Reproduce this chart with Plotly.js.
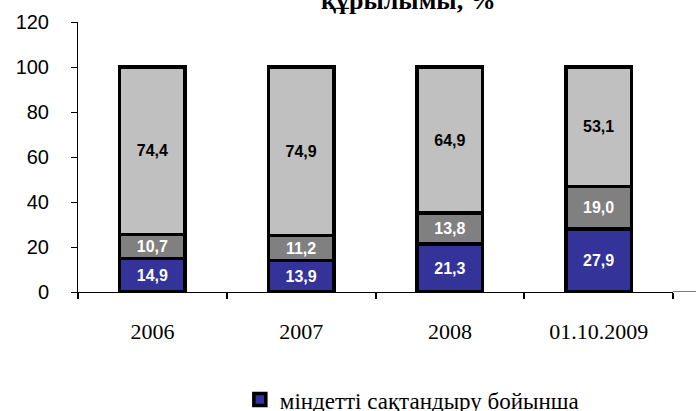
<!DOCTYPE html>
<html><head><meta charset="utf-8">
<script src="https://cdn.plot.ly/plotly-3.0.1.min.js"></script>
<style>html,body{margin:0;padding:0;background:#fff}#chart{width:696px;height:411px}</style>
</head><body><div id="chart"></div>
<script>
var categories = ["2006", "2007", "2008", "01.10.2009"];
var seriesMandatory = [14.9, 13.9, 21.3, 27.9];
var seriesMiddle = [10.7, 11.2, 13.8, 19.0];
var seriesTop = [74.4, 74.9, 64.9, 53.1];
var legendName = "міндетті сақтандыру бойынша";
var titleText = "құрылымы, %";
var yTicks = [0, 20, 40, 60, 80, 100, 120];

function fmt(arr){ return arr.map(function(v){ return v.toFixed(1).replace('.', ','); }); }

function mk(vals, color, txtColor, name, show){
  return {
    type: 'bar', x: categories, y: vals, name: name, showlegend: show,
    marker: {color: color, line: {color: '#000', width: 3.5}},
    text: fmt(vals), textposition: 'inside', insidetextanchor: 'middle',
    textangle: 0, constraintext: 'none', cliponaxis: false,
    textfont: {family: 'Liberation Sans, Arial', size: 16, color: txtColor, weight: 'bold'},
    hoverinfo: 'none'
  };
}

var data = [
  mk(seriesMandatory, '#333399', '#ffffff', legendName, true),
  mk(seriesMiddle, '#808080', '#ffffff', 'series 2', false),
  mk(seriesTop, '#c0c0c0', '#000000', 'series 3', false)
];

var layout = {
  width: 696, height: 411,
  margin: {l: 78, r: 23, t: 22, b: 119, autoexpand: false},
  paper_bgcolor: '#fff', plot_bgcolor: '#fff',
  barmode: 'stack', bargap: 0.56,
  showlegend: true,
  legend: {x: 0.272, xanchor: 'left', y: -0.319, yanchor: 'top', orientation: 'h',
    font: {family: 'Liberation Serif, Times New Roman', size: 23, color: '#000'},
    itemwidth: 30, bgcolor: 'rgba(0,0,0,0)'},
  xaxis: {type: 'category', range: [-0.5, 3.5], tickson: 'boundaries', ticks: 'outside',
    ticklen: 6, tickwidth: 2, tickcolor: '#000', showline: true, linecolor: '#000', linewidth: 1,
    showgrid: false, zeroline: false, ticklabelstandoff: 20,
    tickfont: {family: 'Liberation Serif, Times New Roman', size: 22, color: '#000'}},
  yaxis: {range: [0, 120], tickvals: yTicks, ticks: 'outside', ticklen: 6, tickwidth: 1,
    tickcolor: '#000', showline: true, linecolor: '#000', linewidth: 1, showgrid: false,
    zeroline: false, ticklabelstandoff: 18,
    tickfont: {family: 'Liberation Sans, Arial', size: 20, color: '#000'}},
  shapes: [{type: 'line', xref: 'paper', yref: 'y', x0: 1, x1: 1.04, y0: 0, y1: 0,
    line: {color: '#000', width: 1}}],
  annotations: [{text: '<b>' + titleText + '</b>', xref: 'paper', yref: 'paper',
    x: 0.556, xanchor: 'center', y: 1.0778, yanchor: 'middle', showarrow: false,
    font: {family: 'Liberation Serif, Times New Roman', size: 26, color: '#000'}}]
};

Plotly.newPlot('chart', data, layout, {displayModeBar: false, staticPlot: true});
</script></body></html>
